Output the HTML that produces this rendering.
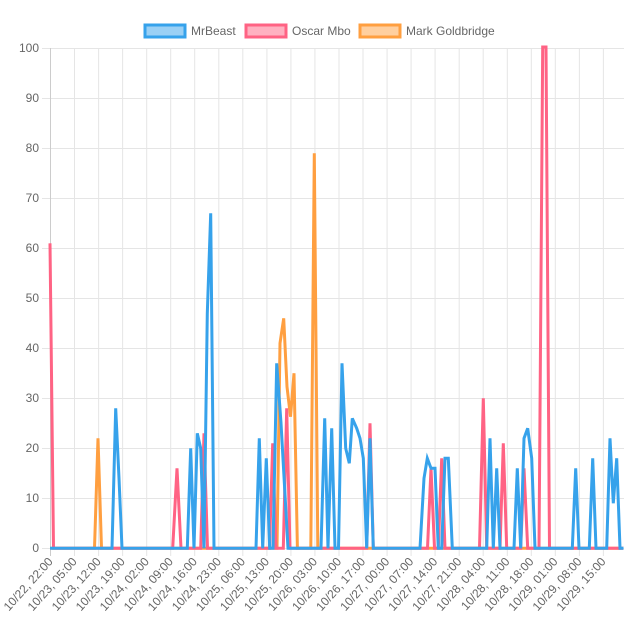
<!DOCTYPE html>
<html><head><meta charset="utf-8"><style>
html,body{margin:0;padding:0;background:#fff;}
svg{display:block;font-family:"Liberation Sans",Arial,sans-serif;}
</style></head><body>
<svg width="640" height="640" viewBox="0 0 640 640" xmlns="http://www.w3.org/2000/svg">
<g font-size="12" fill="#666">
<rect x="145" y="25" width="40" height="12" fill="rgba(54,162,235,0.5)" stroke="rgb(54,162,235)" stroke-width="3"/>
<text x="191" y="35">MrBeast</text>
<rect x="246" y="25" width="40" height="12" fill="rgba(255,99,132,0.5)" stroke="rgb(255,99,132)" stroke-width="3"/>
<text x="292" y="35">Oscar Mbo</text>
<rect x="360" y="25" width="40" height="12" fill="rgba(255,159,64,0.5)" stroke="rgb(255,159,64)" stroke-width="3"/>
<text x="406" y="35">Mark Goldbridge</text>
</g>
<g stroke="#e5e5e5" stroke-width="1">
<line x1="42" y1="48.5" x2="624" y2="48.5"/>
<line x1="42" y1="98.5" x2="624" y2="98.5"/>
<line x1="42" y1="148.5" x2="624" y2="148.5"/>
<line x1="42" y1="198.5" x2="624" y2="198.5"/>
<line x1="42" y1="248.5" x2="624" y2="248.5"/>
<line x1="42" y1="298.5" x2="624" y2="298.5"/>
<line x1="42" y1="348.5" x2="624" y2="348.5"/>
<line x1="42" y1="398.5" x2="624" y2="398.5"/>
<line x1="42" y1="448.5" x2="624" y2="448.5"/>
<line x1="42" y1="498.5" x2="624" y2="498.5"/>
<line x1="42" y1="548.5" x2="624" y2="548.5"/>
<line x1="74.5" y1="48" x2="74.5" y2="556"/>
<line x1="98.6" y1="48" x2="98.6" y2="556"/>
<line x1="122.6" y1="48" x2="122.6" y2="556"/>
<line x1="146.7" y1="48" x2="146.7" y2="556"/>
<line x1="170.7" y1="48" x2="170.7" y2="556"/>
<line x1="194.7" y1="48" x2="194.7" y2="556"/>
<line x1="218.8" y1="48" x2="218.8" y2="556"/>
<line x1="242.8" y1="48" x2="242.8" y2="556"/>
<line x1="266.9" y1="48" x2="266.9" y2="556"/>
<line x1="290.9" y1="48" x2="290.9" y2="556"/>
<line x1="314.9" y1="48" x2="314.9" y2="556"/>
<line x1="339" y1="48" x2="339" y2="556"/>
<line x1="363" y1="48" x2="363" y2="556"/>
<line x1="387.1" y1="48" x2="387.1" y2="556"/>
<line x1="411.1" y1="48" x2="411.1" y2="556"/>
<line x1="435.1" y1="48" x2="435.1" y2="556"/>
<line x1="459.2" y1="48" x2="459.2" y2="556"/>
<line x1="483.2" y1="48" x2="483.2" y2="556"/>
<line x1="507.3" y1="48" x2="507.3" y2="556"/>
<line x1="531.3" y1="48" x2="531.3" y2="556"/>
<line x1="555.3" y1="48" x2="555.3" y2="556"/>
<line x1="579.4" y1="48" x2="579.4" y2="556"/>
<line x1="603.4" y1="48" x2="603.4" y2="556"/>
</g>
<line x1="50.5" y1="48" x2="50.5" y2="556" stroke="#ccc"/>
<g font-size="12" fill="#666" text-anchor="end">
<text x="39" y="52">100</text><text x="39" y="102">90</text><text x="39" y="152">80</text>
<text x="39" y="202">70</text><text x="39" y="252">60</text><text x="39" y="302">50</text>
<text x="39" y="352">40</text><text x="39" y="402">30</text><text x="39" y="452">20</text>
<text x="39" y="502">10</text><text x="39" y="552">0</text>
</g>
<g font-size="12" fill="#666" text-anchor="end">
<text transform="translate(53.5,562) rotate(-48)">10/22, 22:00</text>
<text transform="translate(77.5,562) rotate(-48)">10/23, 05:00</text>
<text transform="translate(101.6,562) rotate(-48)">10/23, 12:00</text>
<text transform="translate(125.6,562) rotate(-48)">10/23, 19:00</text>
<text transform="translate(149.7,562) rotate(-48)">10/24, 02:00</text>
<text transform="translate(173.7,562) rotate(-48)">10/24, 09:00</text>
<text transform="translate(197.7,562) rotate(-48)">10/24, 16:00</text>
<text transform="translate(221.8,562) rotate(-48)">10/24, 23:00</text>
<text transform="translate(245.8,562) rotate(-48)">10/25, 06:00</text>
<text transform="translate(269.9,562) rotate(-48)">10/25, 13:00</text>
<text transform="translate(293.9,562) rotate(-48)">10/25, 20:00</text>
<text transform="translate(317.9,562) rotate(-48)">10/26, 03:00</text>
<text transform="translate(342,562) rotate(-48)">10/26, 10:00</text>
<text transform="translate(366,562) rotate(-48)">10/26, 17:00</text>
<text transform="translate(390.1,562) rotate(-48)">10/27, 00:00</text>
<text transform="translate(414.1,562) rotate(-48)">10/27, 07:00</text>
<text transform="translate(438.1,562) rotate(-48)">10/27, 14:00</text>
<text transform="translate(462.2,562) rotate(-48)">10/27, 21:00</text>
<text transform="translate(486.2,562) rotate(-48)">10/28, 04:00</text>
<text transform="translate(510.3,562) rotate(-48)">10/28, 11:00</text>
<text transform="translate(534.3,562) rotate(-48)">10/28, 18:00</text>
<text transform="translate(558.3,562) rotate(-48)">10/29, 01:00</text>
<text transform="translate(582.4,562) rotate(-48)">10/29, 08:00</text>
<text transform="translate(606.4,562) rotate(-48)">10/29, 15:00</text>
</g>
<g fill="none" stroke-width="3" stroke-linejoin="miter">
<polyline stroke="rgb(255,159,64)" points="50,548.3 94.5,548.3 98,438.3 101.5,548.3 277,548.3 280,343.3 283.7,318.3 287,386.7 290.5,416.7 294,373.3 297.4,548.3 310.8,548.3 314.3,153.3 317.8,548.3 623.5,548.3"/>
<polyline stroke="rgb(255,99,132)" points="50,243.3 53.5,548.3 172.7,548.3 177,468.3 181,548.3 200.7,548.3 204,433.3 207.5,548.3 269.5,548.3 272.7,443.3 276,548.3 283.3,548.3 286.7,408.3 290,548.3 366.7,548.3 370,423.3 373.3,548.3 427.5,548.3 431,468.3 434.5,548.3 438.3,548.3 441.7,458.3 445,548.3 479.5,548.3 483.3,398.3 486.7,548.3 500,548.3 503.3,443.3 506.7,548.3 520.7,548.3 524,468.3 527.7,548.3 539,548.3 542.7,47 546,47 549.5,548.3 623.5,548.3"/>
<polyline stroke="rgb(54,162,235)" points="50,548.3 112,548.3 115.7,408.3 119,478.3 122,548.3 187.3,548.3 190.7,448.3 194,548.3 197.3,433.3 200.7,448.3 204,548.3 207.3,313.3 210.7,213.3 214,548.3 256,548.3 259.3,438.3 262.7,548.3 266.3,458.3 269.7,548.3 273,548.3 276.7,363.3 281,423 288,548.3 321,548.3 324.7,418.3 328,548.3 331.7,428.3 335,548.3 338.5,548.3 342,363.3 345.7,448.3 349.3,463.3 352.3,418.3 356.7,428.3 360,438.3 363.3,458.3 366.7,548.3 370,438.3 373.3,548.3 420,548.3 424,478.3 427.3,458.3 431,468.3 435,468.3 438.3,548.3 441.7,548.3 445,458.3 448.3,458.3 452.3,548.3 486.7,548.3 490,438.3 493.3,548.3 496.7,468.3 500,548.3 514,548.3 517.3,468.3 520.7,548.3 524,438.3 527.7,428.3 531.7,458.3 535,548.3 572.3,548.3 575.7,468.3 579,548.3 589.3,548.3 592.7,458.3 596,548.3 606.7,548.3 610,438.3 613.3,503.3 616.7,458.3 620,548.3 623.5,548.3"/>
</g>
</svg>
</body></html>
